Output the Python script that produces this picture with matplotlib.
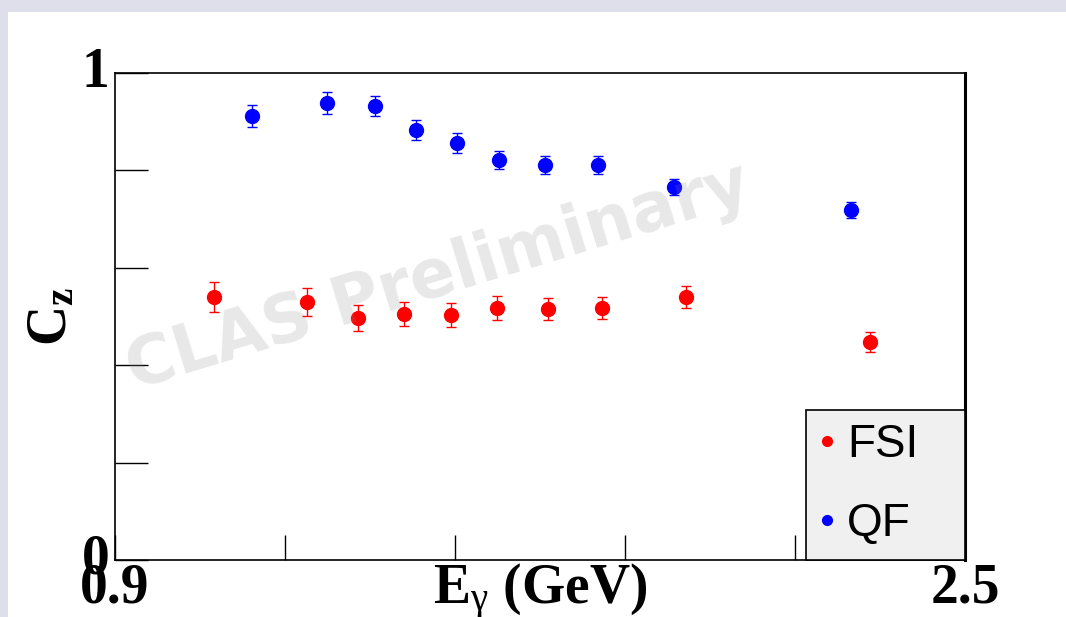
import matplotlib
matplotlib.use("Agg")
import matplotlib.pyplot as plt
from matplotlib.patches import Rectangle

# Photon energy bins (GeV) and C_z values with uncertainties
e_qf = [1.158, 1.299, 1.389, 1.467, 1.544, 1.623, 1.709, 1.809, 1.952, 2.285]
cz_qf = [0.912, 0.938, 0.932, 0.883, 0.856, 0.821, 0.811, 0.811, 0.766, 0.719]
err_qf = [0.022, 0.022, 0.020, 0.020, 0.020, 0.018, 0.018, 0.018, 0.016, 0.016]

e_fsi = [1.086, 1.261, 1.357, 1.444, 1.532, 1.619, 1.715, 1.817, 1.975, 2.321]
cz_fsi = [0.540, 0.530, 0.497, 0.505, 0.503, 0.517, 0.515, 0.517, 0.540, 0.448]
err_fsi = [0.031, 0.029, 0.027, 0.025, 0.025, 0.025, 0.023, 0.023, 0.023, 0.021]

x_ticks = [0.9, 1.22, 1.54, 1.86, 2.18, 2.5]
x_tick_labels = ["0.9", "", "", "", "", "2.5"]
y_ticks = [0, 0.2, 0.4, 0.6, 0.8, 1]
y_tick_labels = ["0", "", "", "", "", "1"]

plt.rcParams["mathtext.fontset"] = "custom"
plt.rcParams["mathtext.rm"] = "Liberation Serif"
plt.rcParams["mathtext.it"] = "Liberation Serif:italic"
plt.rcParams["mathtext.bf"] = "Liberation Serif:bold"

fig = plt.figure(figsize=(10.66, 6.17), dpi=100)
fig.patch.set_facecolor("#dfdfeb")
# white slide panel
fig.patches.append(Rectangle((8 / 1066, 0), 1, 1 - 12 / 617, transform=fig.transFigure,
                             facecolor="white", edgecolor="none", zorder=-10))

ax = fig.add_axes([115 / 1066, 1 - 560 / 617, 850 / 1066, 487 / 617])
ax.set_facecolor("white")

ax.errorbar(e_fsi, cz_fsi, yerr=err_fsi, fmt="o", color="red", ms=10, elinewidth=1,
            capsize=3.5, capthick=1, label="FSI", zorder=3)
ax.errorbar(e_qf, cz_qf, yerr=err_qf, fmt="o", color="blue", ms=10, elinewidth=1,
            capsize=3.5, capthick=1, label="QF", zorder=3)

ax.set_xlim(0.9, 2.5)
ax.set_ylim(0, 1)

tick_font = dict(family="Liberation Serif", weight="bold", size=40)
ax.set_xticks(x_ticks)
ax.set_xticklabels(x_tick_labels, fontdict=tick_font)
ax.set_yticks(y_ticks)
ax.set_yticklabels(y_tick_labels, fontdict=tick_font, va="center")
ax.tick_params(axis="x", direction="in", length=18, width=1, pad=2)
ax.tick_params(axis="y", direction="in", length=24, width=1, pad=4)

for s in ax.spines.values():
    s.set_linewidth(1.2)
ax.spines["right"].set_linewidth(2.2)

ax.set_xlabel(r"E$_{\mathrm{\gamma}}$ (GeV)", family="Liberation Serif", weight="bold", size=40)
ax.xaxis.set_label_coords(0.5, -0.004)
ax.xaxis.label.set_va("top")
ax.set_ylabel(r"C$_{\mathbf{z}}$", family="Liberation Serif", weight="bold", size=40)
ax.yaxis.set_label_coords(-0.074, 0.5)
ax.yaxis.label.set_va("center")

# Legend
handles, labels = ax.get_legend_handles_labels()
handles = [h[0] for h in handles]
leg = ax.legend(handles, labels, loc="lower left", bbox_to_anchor=(0.813, 0, 0.187, 0.314),
                mode="expand", borderaxespad=0, fancybox=False, framealpha=1,
                facecolor="#f0f0f0", edgecolor="black", markerscale=0.7,
                prop=dict(family="Liberation Sans", size=33), handlelength=0.3,
                handletextpad=0.3, labelspacing=0.76, borderpad=0.3)
leg.get_frame().set_linewidth(1.2)

# Watermark
ax.text(0.38, 0.58, "CLAS Preliminary", transform=ax.transAxes, rotation=17,
        rotation_mode="anchor", ha="center", va="center", family="DejaVu Sans",
        weight="bold", size=48, color="0.55", alpha=0.2, zorder=5)

fig.savefig("out.png", dpi=100)
